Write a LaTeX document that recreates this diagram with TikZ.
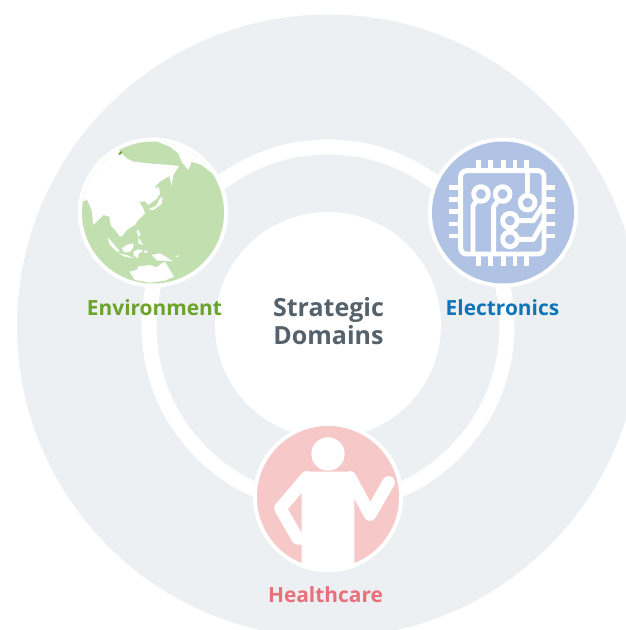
\documentclass[tikz,border=0pt]{standalone}
\usepackage{fontspec}
\setmainfont{Open Sans}
\definecolor{bgc}{HTML}{EDF0F3}
\definecolor{gc}{HTML}{C1DFAF}
\definecolor{bc}{HTML}{B0C3E4}
\definecolor{pc}{HTML}{F6C8C8}
\definecolor{envt}{HTML}{6BA32B}
\definecolor{elet}{HTML}{0E76B8}
\definecolor{heat}{HTML}{E8707A}
\definecolor{cent}{HTML}{55626C}
\tikzset{
 lab/.style={font=\bfseries\fontsize{20.9}{25}\selectfont,inner sep=0pt},
 wire/.style={draw=white,line width=4.9pt,line join=round,fill=none},
 limb/.style={draw=white,line width=12.5pt,line cap=round,line join=round},
 zoomed/.style={x=0.3333pt,y=-0.3333pt}
}
\begin{document}
\begin{tikzpicture}[x=1pt,y=-1pt]
\path[use as bounding box] (0,0) rectangle (626,630);
\clip (0,0) rectangle (626,630);
\fill[white] (0,0) rectangle (626,630);
\fill[bgc] (328.5,326) circle[radius=311.5];
\draw[white,line width=15pt] (328,326) circle[radius=179];
\fill[white] (328,325) circle[radius=113];
% Environment
\fill[white] (153,212.5) circle[radius=75];
\fill[gc] (153,212.5) circle[radius=71];
\begin{scope}
\clip (153,212.5) circle[radius=71];
\begin{scope}[shift={(70,130)},zoomed]
\fill[white] (30,215) -- (52,210) -- (65,240) -- (70,285) -- (100,255) -- (118,260) -- (122,285) -- (135,300) -- (150,320) -- (160,315) -- (170,300) -- (195,285) -- (205,270) -- (225,250) -- (220,235) -- (208,216) -- (225,214) -- (235,225) -- (262,205) -- (270,185) -- (255,170) -- (270,155) -- (298,138) -- (305,168) -- (310,135) -- (327,108) -- (300,105) -- (235,100) -- (190,95) -- (170,85) -- (145,60) -- (60,100) -- cycle;
\fill[white] (262,35) -- (300,50) -- (325,70) -- (335,95) -- (355,120) -- (365,95) -- (395,105) -- (440,140) -- (420,40) -- (300,10) -- cycle;
\fill[white] (178,425) -- (200,420) -- (205,410) -- (240,405) -- (260,412) -- (275,400) -- (285,395) -- (300,420) -- (312,440) -- (285,452) -- (240,458) -- (195,450) -- cycle;
\fill[white] (245,375) -- (270,370) -- (295,385) -- (310,395) -- (285,392) -- (262,392) -- cycle;
\fill[white] (155,355) -- (170,345) -- (190,340) -- (190,352) -- (180,365) -- (165,368) -- cycle;
\fill[white] (112,322) -- (125,335) -- (150,365) -- (140,365) -- (120,345) -- cycle;
\fill[white] (145,370) -- (170,375) -- (192,385) -- (165,380) -- cycle;
\fill[white] (190,365) -- (205,358) -- (220,362) -- (205,372) -- (205,385) -- (192,378) -- cycle;
\fill[white] (205,298) -- (212,315) -- (205,320) -- (200,305) -- cycle;
\fill[white] (205,322) -- (220,345) -- (205,340) -- cycle;
\fill[white] (235,238) -- (258,228) -- (270,205) -- (278,200) -- (275,222) -- (250,240) -- cycle;
\fill[white] (262,168) -- (268,175) -- (270,195) -- (265,195) -- cycle;
\fill[white] (222,360) -- (235,365) -- (225,370) -- cycle;
\fill[white] (315,378) -- (328,376) -- (320,382) -- cycle;
\fill[envt] (145,72) -- (152,64) -- (158,66) -- (150,75) -- cycle;
\end{scope}
\end{scope}
% Electronics
\fill[white] (503,212.5) circle[radius=75];
\fill[bc] (503,212.5) circle[radius=71];
\begin{scope}[shift={(420,130)},zoomed]
\draw[wire,rounded corners=6pt] (122,122) rectangle (372,372);
\foreach \p in {175,212,250,285,320}{
  \draw[wire,line cap=butt] (\p,90) -- (\p,122);
  \draw[wire,line cap=butt] (\p,372) -- (\p,408);
}
\foreach \p in {172,208,245,282,318}{
  \draw[wire,line cap=butt] (88,\p) -- (122,\p);
  \draw[wire,line cap=butt] (372,\p) -- (406,\p);
}
\draw[wire] (172,208) -- (159,228) -- (159,372);
\draw[wire] (236,210) -- (221,230) -- (221,372);
\draw[wire] (323,122) -- (323,196);
\draw[wire] (292,272) -- (340,272) -- (372,222);
\draw[wire] (292,328) -- (340,328) -- (372,272);
\draw[wire] (183,192) circle[radius=22];
\draw[wire] (248,192) circle[radius=22];
\draw[wire] (323,218) circle[radius=22];
\draw[wire] (270,272) circle[radius=22];
\draw[wire] (270,328) circle[radius=22];
\end{scope}
% Healthcare
\fill[white] (328,497) circle[radius=75];
\fill[pc] (328,497) circle[radius=71];
\begin{scope}
\clip (328,497) circle[radius=75];
\begin{scope}[shift={(245,420)},zoomed]
\fill[white] (249,102) circle[radius=50];
\fill[white,rounded corners=5pt] (170,470) -- (170,155) -- (315,155) -- (328,175) -- (328,470) -- cycle;
\draw[limb] (185,172) -- (106,265) -- (158,355) -- (175,355);
\draw[limb] (315,172) -- (375,284) -- (431,187);
\end{scope}
\end{scope}
% Labels
\node[lab,text=envt] (env) at (154.5,308) {Environment};
\node[lab,text=elet] (ele) at (502.5,308) {Electronics};
\node[lab,text=heat] (hea) at (325.5,595) {Healthcare};
\node[lab,text=cent,align=center,font=\bfseries\fontsize{25}{28}\selectfont] (cen) at (328.5,321.5) {Strategic\\Domains};
\end{tikzpicture}
\end{document}
